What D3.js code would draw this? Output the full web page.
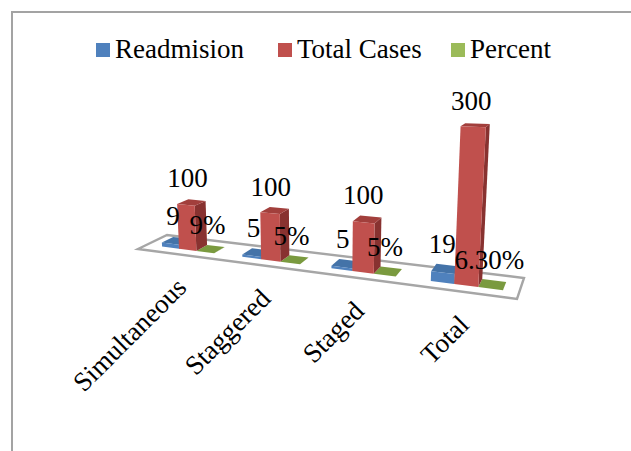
<!DOCTYPE html>
<html>
<head>
<meta charset="utf-8">
<style>
html,body{margin:0;padding:0;background:#fff;overflow:hidden}
svg{display:block}
text{font-family:"Liberation Serif",serif;fill:#000}
</style>
<script src="https://cdn.jsdelivr.net/npm/d3@7/dist/d3.min.js"></script>
</head>
<body>
<svg id="chart" width="631" height="451"></svg>
<script>
const categories = ["Simultaneous", "Staggered", "Staged", "Total"];
const seriesNames = ["Readmision", "Total Cases", "Percent"];
const readmission = [9, 5, 5, 19];
const totalCases = [100, 100, 100, 300];
const percent = [0.09, 0.05, 0.05, 0.063];
const readmissionLabels = ["9", "5", "5", "19"];
const totalLabels = ["100", "100", "100", "300"];
const percentLabels = ["9%", "5%", "5%", "6.30%"];
const frontColors = ["#4f81bd", "#c0504d", "#9bbb59"];
const topColors = ["#4473a8", "#a23f3c", "#7a9a3f"];
const sideColors = ["#375d88", "#883230", "#5f7a2c"];

const svg = d3.select("#chart");
const W = 631, H = 451;

// Chart area frame runs off the right and bottom of the page
svg.append("rect").attr("x", 12).attr("y", 12).attr("width", W + 20).attr("height", H + 20)
  .attr("fill", "#fff").attr("stroke", "#a3a3a3").attr("stroke-width", 2);

// Floor corners in page space: front-left, front-right, back-right, back-left
const quad = [[138, 249], [517, 299], [524, 278], [167, 235]];

// Homography taking the unit square onto the floor quad
function makeHomography([p0, p1, p2, p3]) {
  const dx1 = p1[0] - p2[0], dx2 = p3[0] - p2[0], sx = p0[0] - p1[0] + p2[0] - p3[0];
  const dy1 = p1[1] - p2[1], dy2 = p3[1] - p2[1], sy = p0[1] - p1[1] + p2[1] - p3[1];
  const den = dx1 * dy2 - dx2 * dy1;
  const g = (sx * dy2 - dx2 * sy) / den, h = (dx1 * sy - sx * dy1) / den;
  const a = p1[0] - p0[0] + g * p1[0], b = p3[0] - p0[0] + h * p3[0];
  const d = p1[1] - p0[1] + g * p1[1], e = p3[1] - p0[1] + h * p3[1];
  return (u, v) => {
    const w = g * u + h * v + 1;
    return { x: (a * u + b * v + p0[0]) / w, y: (d * u + e * v + p0[1]) / w, w };
  };
}
const floor = makeHomography(quad);

// Scales: category bands along the floor, series bands inside each category, value to height
const uScale = d3.scaleBand().domain(categories).range([0, 1]);
const seriesScale = d3.scaleBand().domain(seriesNames).range([0.0495, 0.2145])
  .paddingInner(0);
const depthScale = d3.scaleLinear().domain([0, 1]).range([0.3, 0.7]);
const heightScale = d3.scaleLinear().domain([0, 300]).range([0, 134]);
const leanScale = d3.scaleLinear().domain([320, 460]).range([0, 0.042]);

// Projects a floor position raised by a value into page coordinates
function project(u, v, value) {
  const p = floor(u, v);
  const h = heightScale(value) / p.w;
  return [p.x + leanScale(p.x) * h, p.y - h];
}

const polygon = pts => pts.map(p => p.join(",")).join(" ");

svg.append("polygon")
  .attr("points", polygon(quad))
  .attr("fill", "#fff").attr("stroke", "#a6a6a6").attr("stroke-width", 2.4)
  .attr("stroke-linejoin", "miter");

const seriesValues = [readmission, totalCases, percent];
const drawOrder = [0, 2, 1];

categories.forEach((cat, c) => {
  drawOrder.forEach(s => {
    const value = seriesValues[s][c];
    const u0 = uScale(cat) + seriesScale(seriesNames[s]);
    const u1 = u0 + seriesScale.bandwidth();
    const v0 = depthScale(0), v1 = depthScale(1);
    const g = svg.append("g").attr("class", "bar");
    g.append("polygon").attr("fill", sideColors[s]).attr("points", polygon([
      project(u1, v0, 0), project(u1, v1, 0), project(u1, v1, value), project(u1, v0, value)]));
    g.append("polygon").attr("fill", topColors[s] ).attr("points", polygon([
      project(u0, v0, value), project(u1, v0, value), project(u1, v1, value), project(u0, v1, value)]));
    g.append("polygon").attr("fill", frontColors[s]).attr("points", polygon([
      project(u0, v0, 0), project(u1, v0, 0), project(u1, v0, value), project(u0, v0, value)]));
  });
});

// Data labels sit relative to the top of their bar
const labelSets = [readmissionLabels, totalLabels, percentLabels];
const labelOffsets = [[-3, -25], [-4, -24], [-3, -24]];
categories.forEach((cat, c) => {
  labelSets.forEach((labels, s) => {
    const uc = uScale(cat) + seriesScale(seriesNames[s]) + seriesScale.bandwidth() / 2;
    const [x, y] = project(uc, 0.5, seriesValues[s][c]);
    svg.append("text")
      .attr("x", x + labelOffsets[s][0]).attr("y", y + labelOffsets[s][1])
      .attr("text-anchor", "middle").attr("dominant-baseline", "central")
      .attr("font-size", 27).text(labels[c]);
  });
});

// Category labels, rotated and ending just under the front floor edge
categories.forEach(cat => {
  const p = floor(uScale(cat) + uScale.bandwidth() / 2, 0);
  svg.append("text")
    .attr("text-anchor", "end")
    .attr("transform", `translate(${p.x + 11},${p.y + 35}) rotate(-45)`)
    .attr("font-size", 27).text(cat);
});

// Legend
const legendX = [96, 278, 451];
seriesNames.forEach((name, i) => {
  svg.append("rect").attr("x", legendX[i]).attr("y", 43).attr("width", 14).attr("height", 14)
    .attr("fill", frontColors[i]);
  svg.append("text").attr("x", legendX[i] + 19).attr("y", 58)
    .attr("font-size", 27).text(name);
});
</script>
</body>
</html>
